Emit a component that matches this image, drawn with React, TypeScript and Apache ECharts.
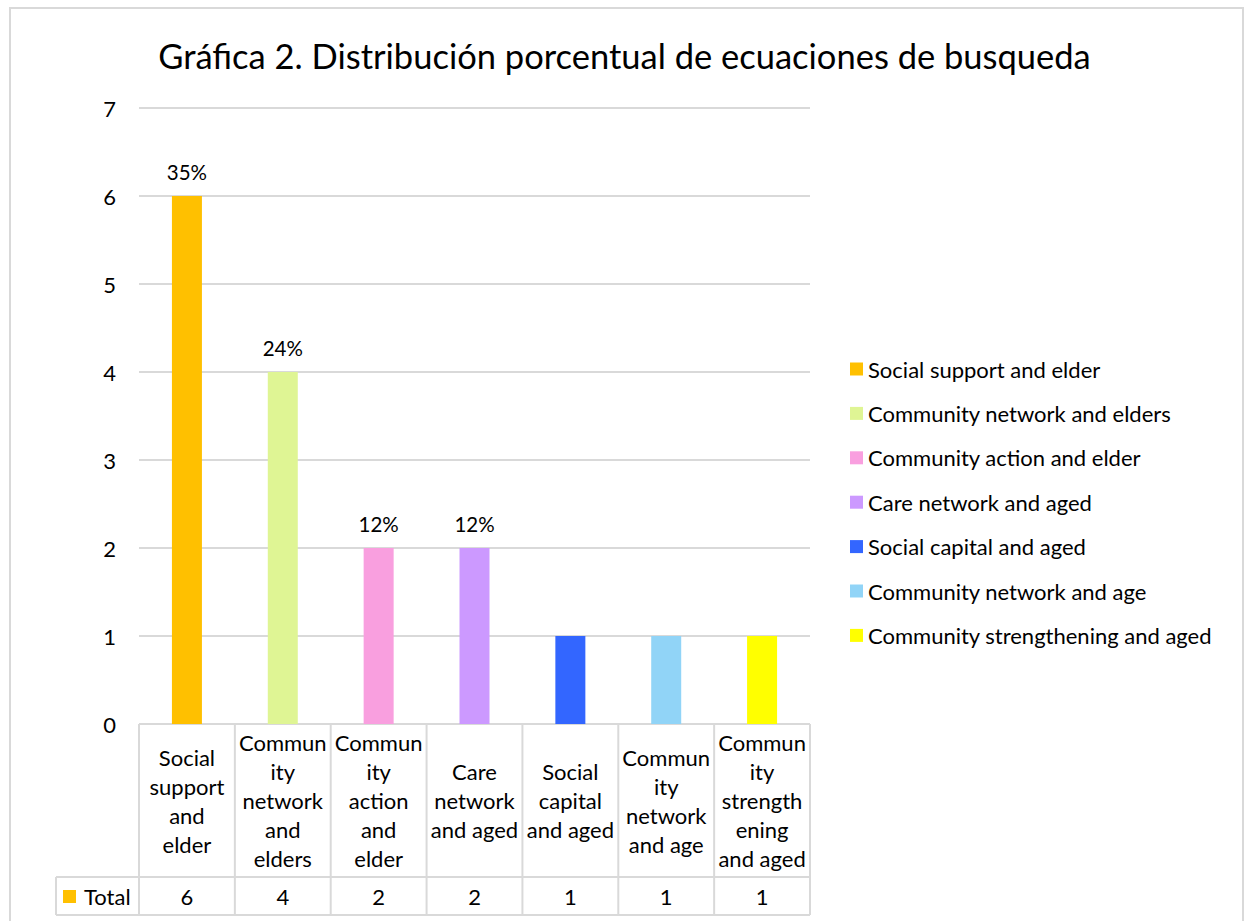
import React, { useEffect, useRef } from "react";
import * as echarts from "echarts";

const titleText = "Gráfica 2. Distribución porcentual de ecuaciones de busqueda";
const categories = [
  "Social support and elder",
  "Community network and elders",
  "Community action and elder",
  "Care network and aged",
  "Social capital and aged",
  "Community network and age",
  "Community strengthening and aged",
];
const tableLabels = [
  "Social\nsupport\nand\nelder",
  "Commun\nity\nnetwork\nand\nelders",
  "Commun\nity\naction\nand\nelder",
  "Care\nnetwork\nand aged",
  "Social\ncapital\nand aged",
  "Commun\nity\nnetwork\nand age",
  "Commun\nity\nstrength\nening\nand aged",
];
const values = [6, 4, 2, 2, 1, 1, 1];
const percentLabels = ["35%", "24%", "12%", "12%", "", "", ""];
const colors = ["#FFC000", "#DFF594", "#F99FDF", "#CC99FF", "#3366FF", "#91D4F7", "#FFFF00"];
const rowName = "Total";

const FONT = "Lato, 'Open Sans', sans-serif";
const TEXT = "#000000";
const LINE = "#D9D9D9";

// layout
const G_LEFT = 139;
const G_RIGHT_X = 810;
const G_TOP = 108;
const G_BOTTOM_Y = 724;
const ROW1_Y = 877;
const ROW2_Y = 915;
const TOTAL_X = 56;

export default function App() {
  const ref = useRef<HTMLDivElement>(null);
  useEffect(() => {
    if (!ref.current) return;
    const chart = echarts.init(ref.current, undefined, { renderer: "svg" });
    const W = 1249;
    const H = 921;
    const cw = (G_RIGHT_X - G_LEFT) / categories.length;

    const graphics: any[] = [
      {
        type: "rect",
        shape: { x: 10, y: 8, width: 1233, height: 940 },
        style: { fill: "none", stroke: LINE, lineWidth: 2 },
        silent: true,
      },
    ];
    const hl = (x1: number, x2: number, y: number) =>
      graphics.push({ type: "line", shape: { x1, y1: y, x2, y2: y }, style: { stroke: LINE, lineWidth: 2 }, silent: true });
    const vl = (x: number, y1: number, y2: number) =>
      graphics.push({ type: "line", shape: { x1: x, y1, x2: x, y2 }, style: { stroke: LINE, lineWidth: 2 }, silent: true });
    hl(G_LEFT, G_RIGHT_X, G_BOTTOM_Y);
    hl(TOTAL_X, G_RIGHT_X, ROW1_Y);
    hl(TOTAL_X, G_RIGHT_X, ROW2_Y);
    vl(TOTAL_X, ROW1_Y, ROW2_Y);
    for (let k = 0; k <= categories.length; k++) vl(G_LEFT + k * cw, G_BOTTOM_Y, ROW2_Y);
    tableLabels.forEach((lab, i) => {
      graphics.push({
        type: "text",
        x: G_LEFT + (i + 0.5) * cw,
        y: (G_BOTTOM_Y + ROW1_Y) / 2,
        style: { text: lab, fontSize: 22, fontFamily: FONT, fill: TEXT, align: "center", verticalAlign: "middle", lineHeight: 29 },
        silent: true,
      });
      graphics.push({
        type: "text",
        x: G_LEFT + (i + 0.5) * cw,
        y: (ROW1_Y + ROW2_Y) / 2,
        style: { text: String(values[i]), fontSize: 22, fontFamily: FONT, fill: TEXT, align: "center", verticalAlign: "middle" },
        silent: true,
      });
    });
    graphics.push({
      type: "rect",
      shape: { x: 63, y: 890, width: 13, height: 13 },
      style: { fill: colors[0] },
      silent: true,
    });
    graphics.push({
      type: "text",
      x: 84,
      y: (ROW1_Y + ROW2_Y) / 2,
      style: { text: rowName, fontSize: 22, fontFamily: FONT, fill: TEXT, align: "left", verticalAlign: "middle" },
      silent: true,
    });

    chart.setOption({
      animation: false,
      backgroundColor: "#ffffff",
      textStyle: { fontFamily: FONT },
      title: {
        text: titleText,
        left: "center",
        top: 33,
        textStyle: { fontSize: 34.5, fontWeight: "normal", color: TEXT, fontFamily: FONT },
      },
      legend: {
        orient: "vertical",
        left: 845,
        top: 353,
        itemWidth: 13,
        itemHeight: 13,
        itemGap: 22.4,
        icon: "rect",
        data: categories,
        textStyle: { fontSize: 22, color: TEXT, fontFamily: FONT },
      },
      grid: {
        left: G_LEFT,
        right: W - G_RIGHT_X,
        top: G_TOP,
        bottom: H - G_BOTTOM_Y,
        containLabel: false,
      },
      xAxis: {
        type: "category",
        data: categories,
        axisLabel: { show: false },
        axisTick: { show: false },
        axisLine: { show: false },
      },
      yAxis: {
        type: "value",
        min: 0,
        max: 7,
        interval: 1,
        axisLabel: { fontSize: 22, color: TEXT, margin: 23, fontFamily: FONT },
        axisLine: { show: false },
        axisTick: { show: false },
        splitLine: { lineStyle: { color: LINE, width: 2 } },
      },
      graphic: graphics,
      series: categories.map((name, i) => ({
        name,
        type: "bar",
        stack: "total",
        barWidth: 30,
        itemStyle: { color: colors[i] },
        data: values.map((v, j) => (j === i ? v : "-")),
        label: {
          show: percentLabels[i] !== "",
          position: "top",
          distance: 14,
          formatter: () => percentLabels[i],
          fontSize: 20.5,
          color: TEXT,
          fontFamily: FONT,
        },
      })),
    });
    return () => chart.dispose();
  }, []);
  return <div ref={ref} style={{ position: "fixed", left: 0, top: 0, width: 1249, height: 921 }} />;
}
